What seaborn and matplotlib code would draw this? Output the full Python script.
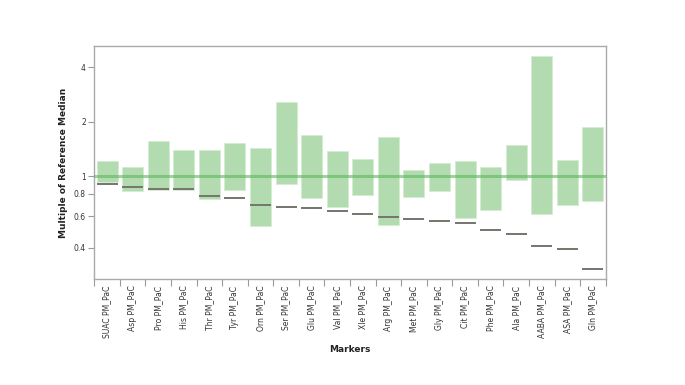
import numpy as np
import pandas as pd
import matplotlib
matplotlib.use("Agg")
import matplotlib.pyplot as plt
import matplotlib.ticker as mticker
import seaborn as sns

markers = ["SUAC PM_PaC", "Asp PM_PaC", "Pro PM_PaC", "His PM_PaC", "Thr PM_PaC",
           "Tyr PM_PaC", "Orn PM_PaC", "Ser PM_PaC", "Glu PM_PaC", "Val PM_PaC",
           "Xle PM_PaC", "Arg PM_PaC", "Met PM_PaC", "Gly PM_PaC", "Cit PM_PaC",
           "Phe PM_PaC", "Ala PM_PaC", "AABA PM_PaC", "ASA PM_PaC", "Gln PM_PaC"]
range_low = [0.93, 0.83, 0.836, 0.836, 0.75, 0.833, 0.528, 0.91, 0.758, 0.673,
             0.785, 0.533, 0.768, 0.83, 0.587, 0.653, 0.95, 0.616, 0.696, 0.727]
range_high = [1.21, 1.126, 1.57, 1.40, 1.40, 1.53, 1.44, 2.57, 1.68, 1.37,
              1.25, 1.65, 1.08, 1.18, 1.21, 1.12, 1.49, 4.64, 1.23, 1.86]
medians = [0.91, 0.87, 0.847, 0.847, 0.778, 0.755, 0.696, 0.673, 0.662, 0.64,
           0.616, 0.59, 0.58, 0.563, 0.549, 0.506, 0.477, 0.409, 0.394, 0.305]
y_ticks = [0.4, 0.6, 0.8, 1, 2, 4]
y_tick_labels = ["0.4", "0.6", "0.8", "1", "2", "4"]
reference = 1.0

df = pd.DataFrame({
    "marker": markers,
    "low": range_low,
    "high": range_high,
    "span": np.array(range_high) - np.array(range_low),
    "median": medians,
})

sns.set_style("white")
plt.rcParams["font.family"] = ["DejaVu Sans"]

fig = plt.figure(figsize=(6.85, 3.85), dpi=100)
ax = fig.add_axes([0.1377, 0.2745, 0.7465, 0.6068])

bar_w = 0.82
sns.barplot(data=df, x="marker", y="span", bottom=df["low"].to_numpy(),
            order=markers, color="#b3dbb0", saturation=1, width=bar_w,
            edgecolor="#d4ecd2", linewidth=0.6, ax=ax, errorbar=None, zorder=2)

ax.set_yscale("log")
ax.set_ylim(0.268, 5.28)
ax.set_xlim(-0.5, len(markers) - 0.5)

# reference line
ax.axhline(reference, color="#5cb85c", alpha=0.6, lw=2.2, zorder=3)

# median ticks
xs = np.arange(len(markers))
ax.hlines(df["median"], xs - bar_w / 2, xs + bar_w / 2, color="#75756c",
          lw=1.4, zorder=4)

# y axis
ax.yaxis.set_major_locator(mticker.FixedLocator(y_ticks))
ax.yaxis.set_major_formatter(mticker.FixedFormatter(y_tick_labels))
ax.yaxis.set_minor_locator(mticker.NullLocator())
ax.tick_params(axis="y", which="major", length=4, width=0.8, color="#999999",
               labelsize=5.5, labelcolor="#333333", pad=2, left=True)

# x axis: labels centered, ticks at band edges
ax.set_xticks(xs)
ax.set_xticklabels(markers, rotation=90, fontsize=5.5, color="#333333")
ax.tick_params(axis="x", which="major", length=0, pad=4.5)
ax.set_xticks(np.arange(len(markers) + 1) - 0.5, minor=True)
ax.tick_params(axis="x", which="minor", length=5, width=0.8, color="#999999",
               bottom=True)

for s in ax.spines.values():
    s.set_color("#aaaaaa")
    s.set_linewidth(1.0)
    s.set_visible(True)

ax.set_ylabel("Multiple of Reference Median", fontsize=6.5, fontweight="bold",
              color="#222222", labelpad=4)
ax.set_xlabel("Markers", fontsize=6.5, fontweight="bold", color="#222222",
              labelpad=5)

fig.savefig("out.png", dpi=100)
